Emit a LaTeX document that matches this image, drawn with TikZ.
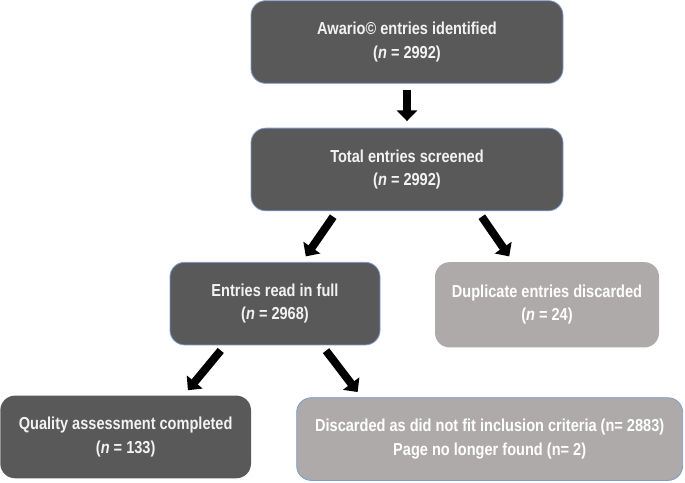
\documentclass[tikz,border=0pt]{standalone}
\usepackage{fontspec}
\setmainfont{Liberation Sans}[FakeStretch=0.84]
\usetikzlibrary{arrows.meta, calc, positioning}
\definecolor{boxdark}{HTML}{595959}
\definecolor{boxlight}{HTML}{AEAAAA}
\definecolor{boxedge}{HTML}{7A9CD0}
\definecolor{boxtext}{HTML}{F2F2F2}
\tikzstyle{darkbox} = [rectangle, rounded corners=11pt, fill=boxdark, text=boxtext, font=\bfseries\fontsize{13}{17.5}\selectfont, align=center, minimum height=62pt]
\tikzstyle{lightbox} = [darkbox, fill=boxlight, text=white]
\tikzstyle{edged} = [draw=boxedge, line width=0.6pt]
\tikzstyle{arrow} = [line width=6pt, -{Triangle[width=15pt,length=8pt]}, shorten <=5pt, shorten >=5pt]

\begin{document}
\begin{tikzpicture}[x=0.75pt, y=-0.75pt]
    \useasboundingbox (0,0) rectangle (685,482);
    \node (Identified) [darkbox, edged, minimum width=234pt] at (407,42) {Awario\textcopyright{} entries identified\\(\textit{n} = 2992)};
    \node (Screened) [darkbox, edged, minimum width=234pt, below=33pt of Identified] {Total entries screened\\(\textit{n} = 2992)};
    \node (ReadFull) [darkbox, edged, minimum width=157.5pt, below=38pt of Screened, xshift=-99pt] {Entries read in full\\(\textit{n} = 2968)};
    \node (Duplicates) [lightbox, minimum width=168pt, minimum height=64pt, below=38pt of Screened, xshift=105pt] {Duplicate entries discarded\\(\textit{n} = 24)};
    \node (Quality) [darkbox, minimum width=188pt, below=37.5pt of ReadFull, xshift=-112pt] {Quality assessment completed\\(\textit{n} = 133)};
    \node (Discarded) [lightbox, edged, minimum width=289.5pt, below=39pt of ReadFull, xshift=161pt] {Discarded as did not fit inclusion criteria (n= 2883)\\Page no longer found (n= 2)};
    \draw [arrow] (Identified) -- (Screened);
    \draw [arrow] ($(Screened.south)+(-70,0)$) -- ($(ReadFull.north)+(27,0)$);
    \draw [arrow] ($(Screened.south)+(71,0)$) -- ($(Duplicates.north)+(-34,0)$);
    \draw [arrow] ($(ReadFull.south)+(-50,0)$) -- ($(Quality.north)+(58,0)$);
    \draw [arrow] ($(ReadFull.south)+(47,0)$) -- ($(Discarded.north)+(-128,0)$);
\end{tikzpicture}
\end{document}
